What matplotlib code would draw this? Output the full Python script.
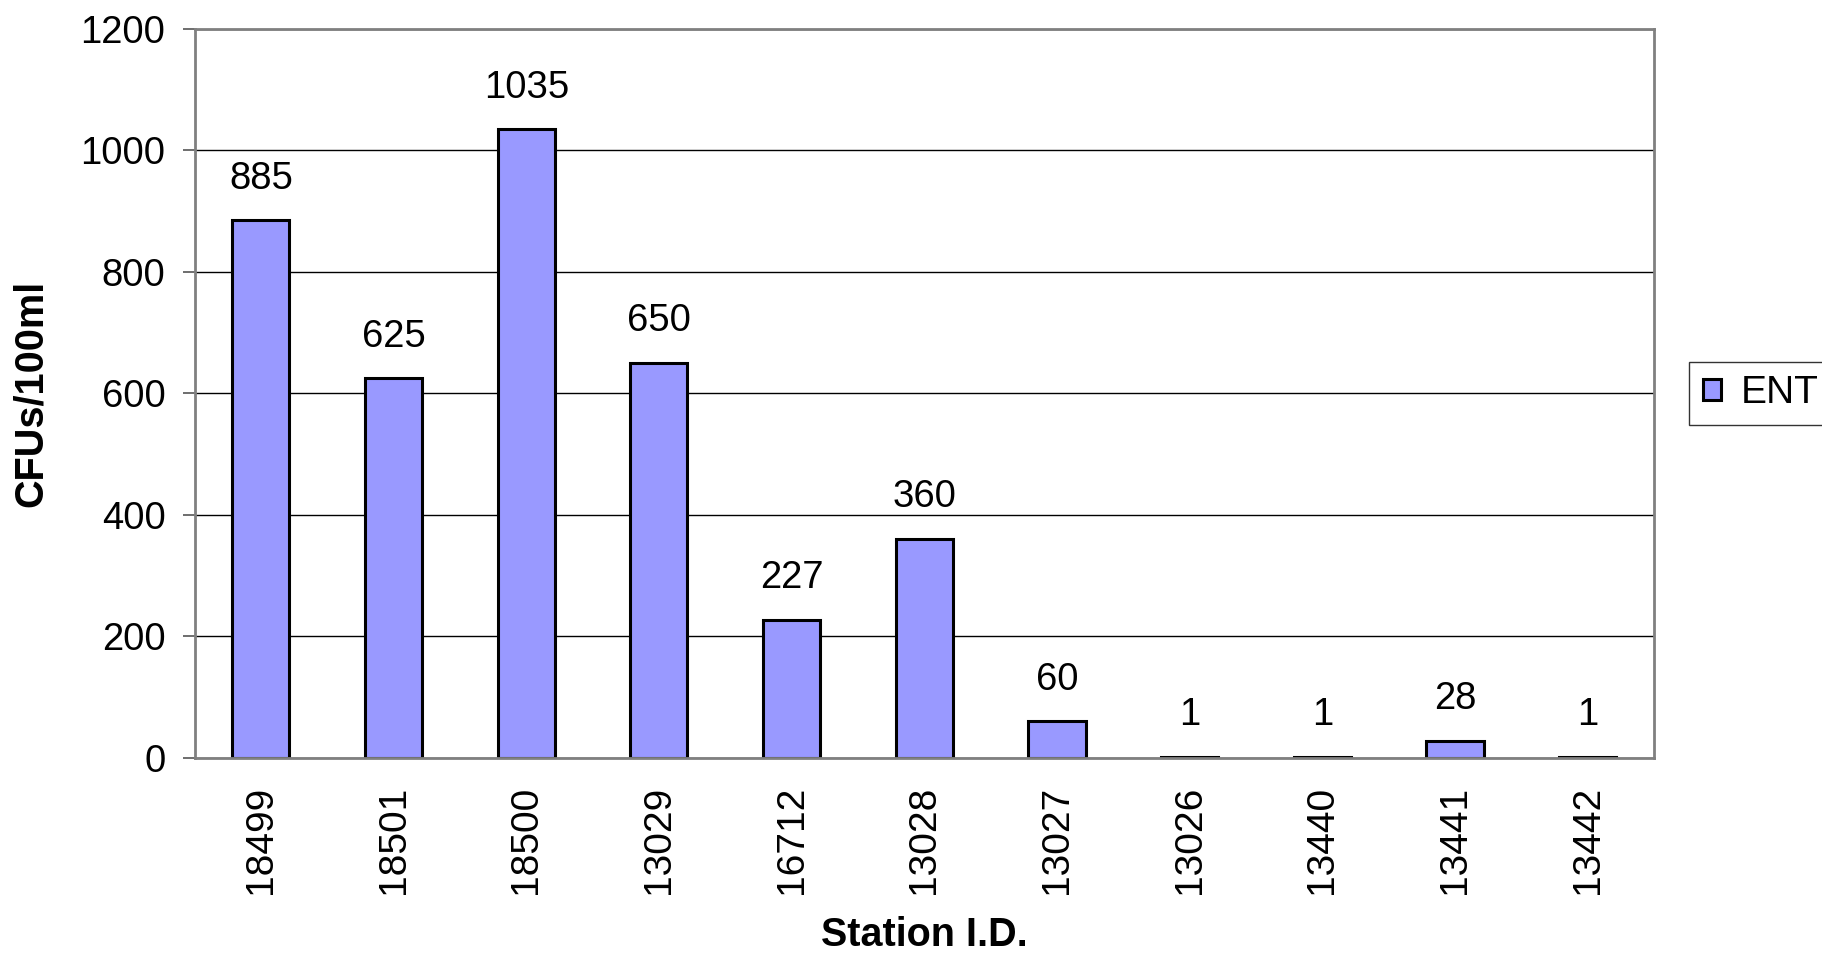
import matplotlib
matplotlib.use('Agg')
import matplotlib.pyplot as plt
import numpy as np

stations = ['18499', '18501', '18500', '13029', '16712', '13028', '13027',
            '13026', '13440', '13441', '13442']
ent = [885, 625, 1035, 650, 227, 360, 60, 1, 1, 28, 1]

plt.rcParams['font.family'] = ['Liberation Sans', 'DejaVu Sans']

fig = plt.figure(figsize=(18.22, 9.55), dpi=100)
ax = fig.add_axes([0.1068, 0.2066, 0.8010, 0.7630])

x = np.arange(len(stations))
bars = ax.bar(x, ent, width=0.43, color='#9999FF', edgecolor='black',
              linewidth=2.2, label='ENT', zorder=3)

for xi, v in zip(x, ent):
    ax.annotate(str(v), (xi, v), xytext=(0, 17), textcoords='offset points',
                ha='center', va='bottom', fontsize=27.5)

ax.set_xlim(-0.5, len(stations) - 0.5)
ax.set_ylim(0, 1200)
ax.set_yticks(range(0, 1201, 200))
ax.set_xticks(x)
ax.set_xticklabels(stations, rotation=90, fontsize=28)
ax.tick_params(axis='x', length=0, pad=20)
ax.tick_params(axis='y', length=9, width=1.2, color='#555555', pad=12, labelsize=27.5)
ax.grid(axis='y', color='black', linewidth=1, zorder=0)
for s in ax.spines.values():
    s.set_color('#808080')
    s.set_linewidth(2)
    s.set_zorder(4)

ax.set_ylabel('CFUs/100ml', fontsize=28.5, fontweight='bold', labelpad=22)
ax.set_xlabel('Station I.D.', fontsize=28.5, fontweight='bold', labelpad=16)

leg = ax.legend(loc='center left', bbox_to_anchor=(1.024, 0.5), borderaxespad=0,
                fontsize=28, frameon=True, fancybox=False, handlelength=0.48,
                handleheight=0.48, handletextpad=0.5, borderpad=0.35)
leg.get_frame().set_edgecolor('black')
leg.get_frame().set_linewidth(1)

fig.savefig('out.png', dpi=100)
